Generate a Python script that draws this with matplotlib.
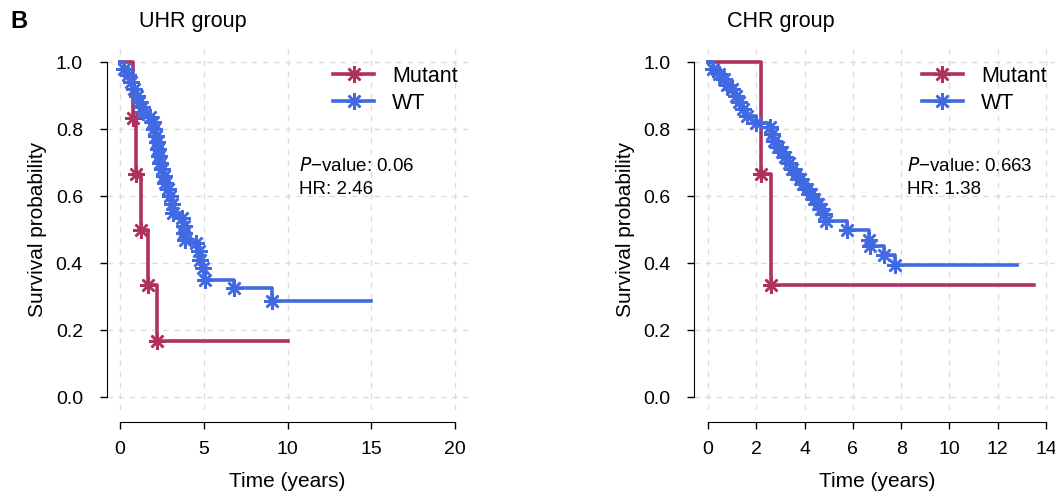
import matplotlib
matplotlib.use("Agg")
import matplotlib.pyplot as plt
from matplotlib.lines import Line2D

plt.rcParams['font.family'] = ['Liberation Sans', 'DejaVu Sans']

RED = "#B03060"
BLUE = "#4169E1"

# UHR group: Kaplan-Meier step points (time in years, survival after event)
uhr_mut_t = [0.8, 0.97, 1.25, 1.65, 2.2]
uhr_mut_s = [0.833, 0.667, 0.5, 0.333, 0.167]
uhr_mut_end = 10.0

uhr_wt_t = [0.25, 0.45, 0.65, 0.85, 1.0, 1.15, 1.3, 1.35, 1.8, 1.95, 2.05, 2.15,
            2.2, 2.25, 2.3, 2.4, 2.5, 2.6, 2.7, 2.85, 3.0, 3.1, 3.15, 3.7, 3.8,
            3.85, 3.9, 4.55, 4.7, 4.8, 4.95, 5.05, 6.8, 9.05]
uhr_wt_s = [0.98, 0.96, 0.94, 0.92, 0.90, 0.88, 0.865, 0.852, 0.835, 0.82, 0.80, 0.78,
            0.76, 0.74, 0.72, 0.70, 0.68, 0.66, 0.64, 0.62, 0.60, 0.575, 0.55, 0.535, 0.51,
            0.49, 0.47, 0.46, 0.435, 0.41, 0.385, 0.35, 0.325, 0.286]
uhr_wt_end = 15.0

# CHR group
chr_mut_t = [2.2, 2.63]
chr_mut_s = [0.667, 0.333]
chr_mut_end = 13.5

chr_wt_t = [0.2, 0.45, 0.65, 0.8, 1.0, 1.15, 1.3, 1.45, 1.6, 2.0, 2.55, 2.65, 2.75,
            2.9, 3.05, 3.2, 3.35, 3.5, 3.65, 3.8, 3.95, 4.1, 4.25, 4.4, 4.55, 4.7,
            4.8, 4.88, 5.75, 6.65, 6.7, 7.3, 7.75]
chr_wt_s = [0.98, 0.965, 0.95, 0.93, 0.92, 0.90, 0.88, 0.86, 0.84, 0.818, 0.805, 0.785,
            0.765, 0.745, 0.73, 0.715, 0.70, 0.68, 0.665, 0.65, 0.635, 0.62, 0.605,
            0.59, 0.575, 0.56, 0.545, 0.525, 0.50, 0.47, 0.45, 0.425, 0.393]
chr_wt_end = 12.8

uhr_xticks = [0, 5, 10, 15, 20]
chr_xticks = [0, 2, 4, 6, 8, 10, 12, 14]
yticks = [0.0, 0.2, 0.4, 0.6, 0.8, 1.0]

uhr_stats = ("0.06", "2.46")
chr_stats = ("0.663", "1.38")

W, H = 1055, 494
fig = plt.figure(figsize=(W / 100, H / 100), dpi=100)

FS_TICK = 14
FS_LAB = 15
FS_LEG = 15.5
FS_STAT = 13.5
ASTER = (8, 2, 0)
LW = 2.6
MS = 12
MEW = 1.8


def km(ax, t, s, end, color):
    xs = [0] + list(t) + [end]
    ys = [1.0] + list(s) + [s[-1]]
    ax.step(xs, ys, where='post', color=color, lw=LW)
    ax.plot(t, s, ls='none', marker=ASTER, ms=MS, mew=MEW, color=color)


def panel(rect, xticks, title, curves, stats, leg_xy, stat_xy):
    ax = fig.add_axes(rect)
    xmax = xticks[-1]
    pad = 0.04 * xmax
    ax.set_xlim(-pad, xmax + pad)
    ax.set_ylim(-0.04, 1.04)
    for x in xticks:
        ax.axvline(x, color="#DCDCDC", lw=1, ls=(0, (4, 4)), zorder=0)
    for y in yticks:
        ax.axhline(y, color="#DCDCDC", lw=1, ls=(0, (4, 4)), zorder=0)
    for t, s, end, c in curves:
        km(ax, t, s, end, c)
    ax.set_xticks(xticks)
    ax.set_yticks(yticks)
    ax.set_yticklabels([f"{v:.1f}" for v in yticks])
    for side in ("top", "right"):
        ax.spines[side].set_visible(False)
    ax.spines['left'].set_bounds(0, 1)
    ax.spines['bottom'].set_bounds(xticks[0], xticks[-1])
    ax.spines['bottom'].set_position(('outward', 8))
    ax.tick_params(axis='y', labelsize=FS_TICK, length=5, width=1, direction='out', pad=12)
    ax.tick_params(axis='x', labelsize=FS_TICK, length=5, width=1, direction='out', pad=9)
    ax.set_xlabel("Time (years)", fontsize=FS_LAB, labelpad=10)
    ax.set_ylabel("Survival probability", fontsize=FS_LAB, labelpad=6)
    ax.text(0.09, 1.045, title, transform=ax.transAxes, fontsize=FS_LEG, va='bottom')
    handles = [Line2D([], [], color=RED, lw=LW, marker=ASTER, ms=MS, mew=MEW),
               Line2D([], [], color=BLUE, lw=LW, marker=ASTER, ms=MS, mew=MEW)]
    ax.legend(handles, ["Mutant", "WT"], loc='upper left', bbox_to_anchor=leg_xy,
              frameon=False, fontsize=FS_LEG, handlelength=1.9, handletextpad=0.85,
              labelspacing=0.28, borderaxespad=0, borderpad=0)
    ax.text(stat_xy[0], stat_xy[1], f"$P$\u2212value: {stats[0]}", transform=ax.transData,
            fontsize=FS_STAT, va='center')
    ax.text(stat_xy[0], stat_xy[1] - 0.07, f"HR: {stats[1]}", transform=ax.transData,
            fontsize=FS_STAT, va='center')
    return ax


def rect_for(x0px, pxunit, xmax):
    pad = 0.04 * xmax
    left = x0px - pad * pxunit
    width = (xmax + 2 * pad) * pxunit
    ybot = H - 397 - 0.04 * 335
    height = 1.08 * 335
    return [left / W, ybot / H, width / W, height / H]


panel(rect_for(120, 16.75, 20), uhr_xticks, "UHR group",
      [(uhr_mut_t, uhr_mut_s, uhr_mut_end, RED), (uhr_wt_t, uhr_wt_s, uhr_wt_end, BLUE)],
      uhr_stats, (0.626, 0.952), (10.7, 0.69))
panel(rect_for(708, 24.14, 14), chr_xticks, "CHR group",
      [(chr_mut_t, chr_mut_s, chr_mut_end, RED), (chr_wt_t, chr_wt_s, chr_wt_end, BLUE)],
      chr_stats, (0.623, 0.952), (8.25, 0.69))

fig.text(10 / W, 1 - 22 / H, "B", fontsize=17, fontweight='bold', va='center')

fig.savefig("out.png", dpi=100)
